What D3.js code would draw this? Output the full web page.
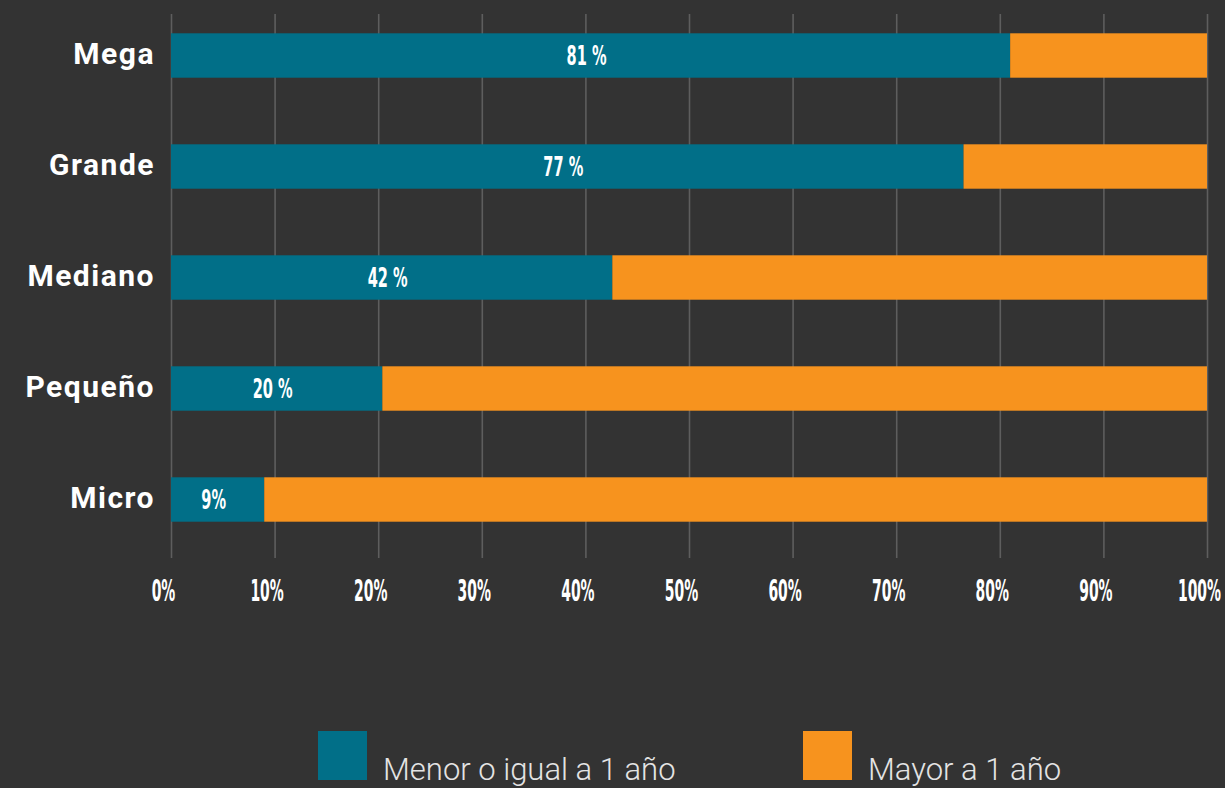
<!DOCTYPE html>
<html>
<head>
<meta charset="utf-8">
<script src="https://cdn.jsdelivr.net/npm/d3@7"></script>
<style>
  html, body { margin: 0; padding: 0; background: #333333; }
</style>
</head>
<body>
<div id="plotDiv"></div>
<script>
// --- data ---
const categories = ["Mega", "Grande", "Mediano", "Pequeño", "Micro"];
const menorValues = [81, 76.5, 42.6, 20.4, 9];          // % menor o igual a 1 año
const valueLabels = ["81 %", "77 %", "42 %", "20 %", "9%"];
const seriesNames = ["Menor o igual a 1 año", "Mayor a 1 año"];
const seriesColors = ["#016f88", "#f7931e"];
const xTicks = [0, 10, 20, 30, 40, 50, 60, 70, 80, 90, 100];

const W = 1225, H = 788;
const narrow = "'Liberation Sans Narrow', 'DejaVu Sans Condensed', Roboto, sans-serif";

const svg = d3.select("#plotDiv")
  .append("svg")
  .attr("width", W)
  .attr("height", H)
  .style("display", "block");

svg.append("rect").attr("width", W).attr("height", H).attr("fill", "#333333");

// --- scales ---
const x = d3.scaleLinear().domain([0, 100]).range([171, 1207]);
const y = d3.scaleBand().domain(categories).range([0, 555])
  .paddingInner(0.6).paddingOuter(0.3);

const gridTop = 14, gridBottom = 558;

// --- x axis + vertical grid ---
const xAxis = d3.axisBottom(x)
  .tickValues(xTicks)
  .tickSize(-(gridBottom - gridTop))
  .tickFormat(d => d + "%");

const gx = svg.append("g")
  .attr("transform", `translate(0,${gridBottom})`)
  .call(xAxis);
gx.select(".domain").remove();
gx.selectAll(".tick line")
  .attr("stroke", "#5e5e5e")
  .attr("stroke-width", 1.6);
gx.selectAll(".tick text")
  .attr("y", 43)
  .attr("dy", 0)
  .attr("transform", "translate(-8,0) scale(0.5,1)")
  .attr("fill", "#ffffff")
  .style("font-family", narrow)
  .style("font-weight", "bold")
  .style("font-size", "31px");

// --- bars ---
const rows = categories.map((c, i) => ({cat: c, v: menorValues[i], label: valueLabels[i]}));

svg.selectAll(".bar-menor")
  .data(rows)
  .enter()
  .append("rect")
  .attr("class", "bar-menor")
  .attr("x", x(0))
  .attr("y", d => y(d.cat))
  .attr("width", d => x(d.v) - x(0))
  .attr("height", y.bandwidth())
  .attr("fill", seriesColors[0]);

svg.selectAll(".bar-mayor")
  .data(rows)
  .enter()
  .append("rect")
  .attr("class", "bar-mayor")
  .attr("x", d => x(d.v))
  .attr("y", d => y(d.cat))
  .attr("width", d => x(100) - x(d.v))
  .attr("height", y.bandwidth())
  .attr("fill", seriesColors[1]);

// value labels inside teal bars
svg.selectAll(".val")
  .data(rows)
  .enter()
  .append("text")
  .attr("class", "val")
  .attr("transform", d => `translate(${(x(0) + x(d.v)) / 2 - 4},${y(d.cat) + y.bandwidth() / 2 + 9.5}) scale(0.6,1)`)
  .attr("text-anchor", "middle")
  .attr("fill", "#ffffff")
  .style("font-family", narrow)
  .style("font-weight", "bold")
  .style("font-size", "27px")
  .text(d => d.label);

// category labels
svg.selectAll(".cat")
  .data(categories)
  .enter()
  .append("text")
  .attr("class", "cat")
  .attr("x", 155)
  .attr("y", d => y(d) + y.bandwidth() / 2 + 8.5)
  .attr("text-anchor", "end")
  .attr("fill", "#ffffff")
  .style("font-family", "Roboto, sans-serif")
  .style("font-weight", "bold")
  .style("font-size", "30px")
  .style("letter-spacing", "1.5px")
  .text(d => d);

// --- legend ---
const legendX = [318, 803];
const legend = svg.selectAll(".legend")
  .data(seriesNames)
  .enter()
  .append("g")
  .attr("class", "legend")
  .attr("transform", (d, i) => `translate(${legendX[i]},731)`);

legend.append("rect")
  .attr("width", 49)
  .attr("height", 49)
  .attr("fill", (d, i) => seriesColors[i]);

legend.append("text")
  .attr("x", 65)
  .attr("y", 49)
  .attr("fill", "#e4e4e4")
  .style("font-family", "Roboto, sans-serif")
  .style("font-weight", 300)
  .style("font-size", "31px")
  .text(d => d);
</script>
</body>
</html>
